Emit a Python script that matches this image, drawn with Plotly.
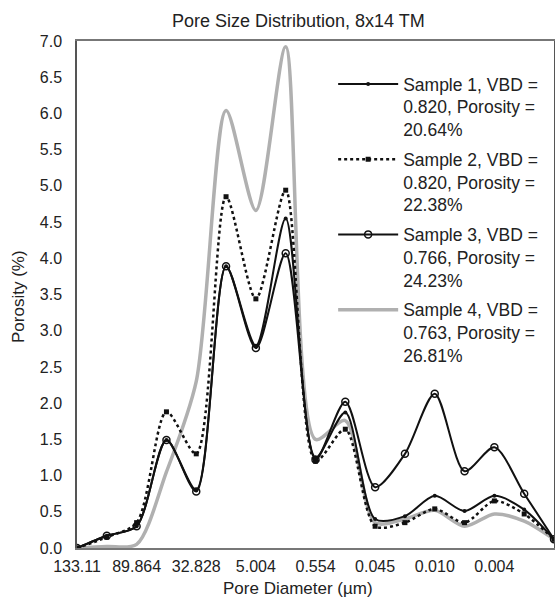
import plotly.graph_objects as go

# pore diameter categories (µm); only every second one is labelled on the axis
tick_labels = ["133.11", "89.864", "32.828", "5.004", "0.554", "0.045", "0.010", "0.004"]
n_points = 17
x_idx = list(range(n_points))

sample1 = [0, 0.17, 0.30, 1.49, 0.80, 3.89, 2.79, 4.55, 1.25, 1.87, 0.40, 0.44, 0.72, 0.51, 0.72, 0.53, 0.12]
sample2 = [0, 0.15, 0.35, 1.88, 1.30, 4.85, 3.44, 4.94, 1.20, 1.64, 0.30, 0.35, 0.54, 0.35, 0.65, 0.47, 0.12]
sample3 = [0, 0.17, 0.30, 1.49, 0.78, 3.89, 2.76, 4.07, 1.22, 2.02, 0.84, 1.30, 2.13, 1.06, 1.39, 0.75, 0.12]
sample4 = [0, 0.02, 0.05, 1.05, 2.30, 6.04, 4.66, 6.92, 1.50, 1.76, 0.35, 0.40, 0.52, 0.30, 0.47, 0.37, 0.12]

names = [
    "Sample 1, VBD =<br>0.820, Porosity =<br>20.64%",
    "Sample 2, VBD =<br>0.820, Porosity =<br>22.38%",
    "Sample 3, VBD =<br>0.766, Porosity =<br>24.23%",
    "Sample 4, VBD =<br>0.763, Porosity =<br>26.81%",
]

FONT = "Liberation Sans, Arial, sans-serif"

fig = go.Figure()
fig.add_trace(go.Scatter(x=x_idx, y=sample4, name=names[3], mode="lines", legendrank=4, legendgroup="s4",
                         line=dict(color="#b0b0b0", width=3.5, shape="spline", smoothing=0.8)))
fig.add_trace(go.Scatter(x=x_idx, y=sample2, name=names[1], mode="lines+markers", legendrank=2, legendgroup="s2",
                         line=dict(color="#111", width=2.5, dash="dot", shape="spline", smoothing=0.8),
                         marker=dict(symbol="square", size=5, color="#111")))
fig.add_trace(go.Scatter(x=x_idx, y=sample3, name=names[2], mode="lines+markers", legendrank=3, legendgroup="s3",
                         line=dict(color="#111", width=2, shape="spline", smoothing=0.8),
                         marker=dict(symbol="circle-open", size=7, color="#111", line=dict(width=1.5))))
fig.add_trace(go.Scatter(x=x_idx, y=sample1, name=names[0], mode="lines+markers", legendrank=1, legendgroup="s1",
                         line=dict(color="#111", width=2, shape="spline", smoothing=0.8),
                         marker=dict(symbol="circle", size=4, color="#111")))

fig.update_layout(
    width=555, height=597,
    margin=dict(l=77, r=1, t=41, b=49, autoexpand=False),
    paper_bgcolor="white", plot_bgcolor="white",
    font=dict(family=FONT, size=16, color="#222"),
    legend=dict(x=0.537, y=(548 - 66) / 507, xanchor="left", yanchor="top",
                traceorder="grouped", valign="top", itemwidth=60,
                font=dict(size=17.5), bgcolor="rgba(0,0,0,0)", tracegroupgap=4),
    showlegend=True,
)
fig.update_xaxes(range=[0, 16], tickvals=list(range(0, 16, 2)), ticktext=tick_labels,
                 showgrid=False, zeroline=False, showline=True, linecolor="#777", linewidth=1.5,
                 mirror=True, ticks="outside", ticklen=3, tickcolor="rgba(0,0,0,0)")
fig.update_yaxes(range=[0, 7], dtick=0.5, tickformat=".1f",
                 showgrid=False, zeroline=False, showline=True, linecolor="#555", linewidth=1.5,
                 mirror=True, ticks="outside", ticklen=10, tickcolor="rgba(0,0,0,0)")

fig.add_annotation(text="Pore Size Distribution, 8x14 TM", xref="paper", yref="paper",
                   x=(298 - 77) / 477, y=1 + (41 - 21) / 507, showarrow=False,
                   xanchor="center", yanchor="middle", font=dict(size=18))
fig.add_annotation(text="Pore Diameter (µm)", xref="paper", yref="paper",
                   x=(298 - 77) / 477, y=-(588 - 548) / 507, showarrow=False,
                   xanchor="center", yanchor="middle", font=dict(size=17))
fig.add_annotation(text="Porosity (%)", xref="paper", yref="paper", textangle=-90,
                   x=(18 - 77) / 477, y=1 - (297 - 41) / 507, showarrow=False,
                   xanchor="center", yanchor="middle", font=dict(size=17))

fig.write_html("out.html", config={"displayModeBar": False},
               post_script="document.body.style.margin='0';document.body.style.overflow='hidden';")
